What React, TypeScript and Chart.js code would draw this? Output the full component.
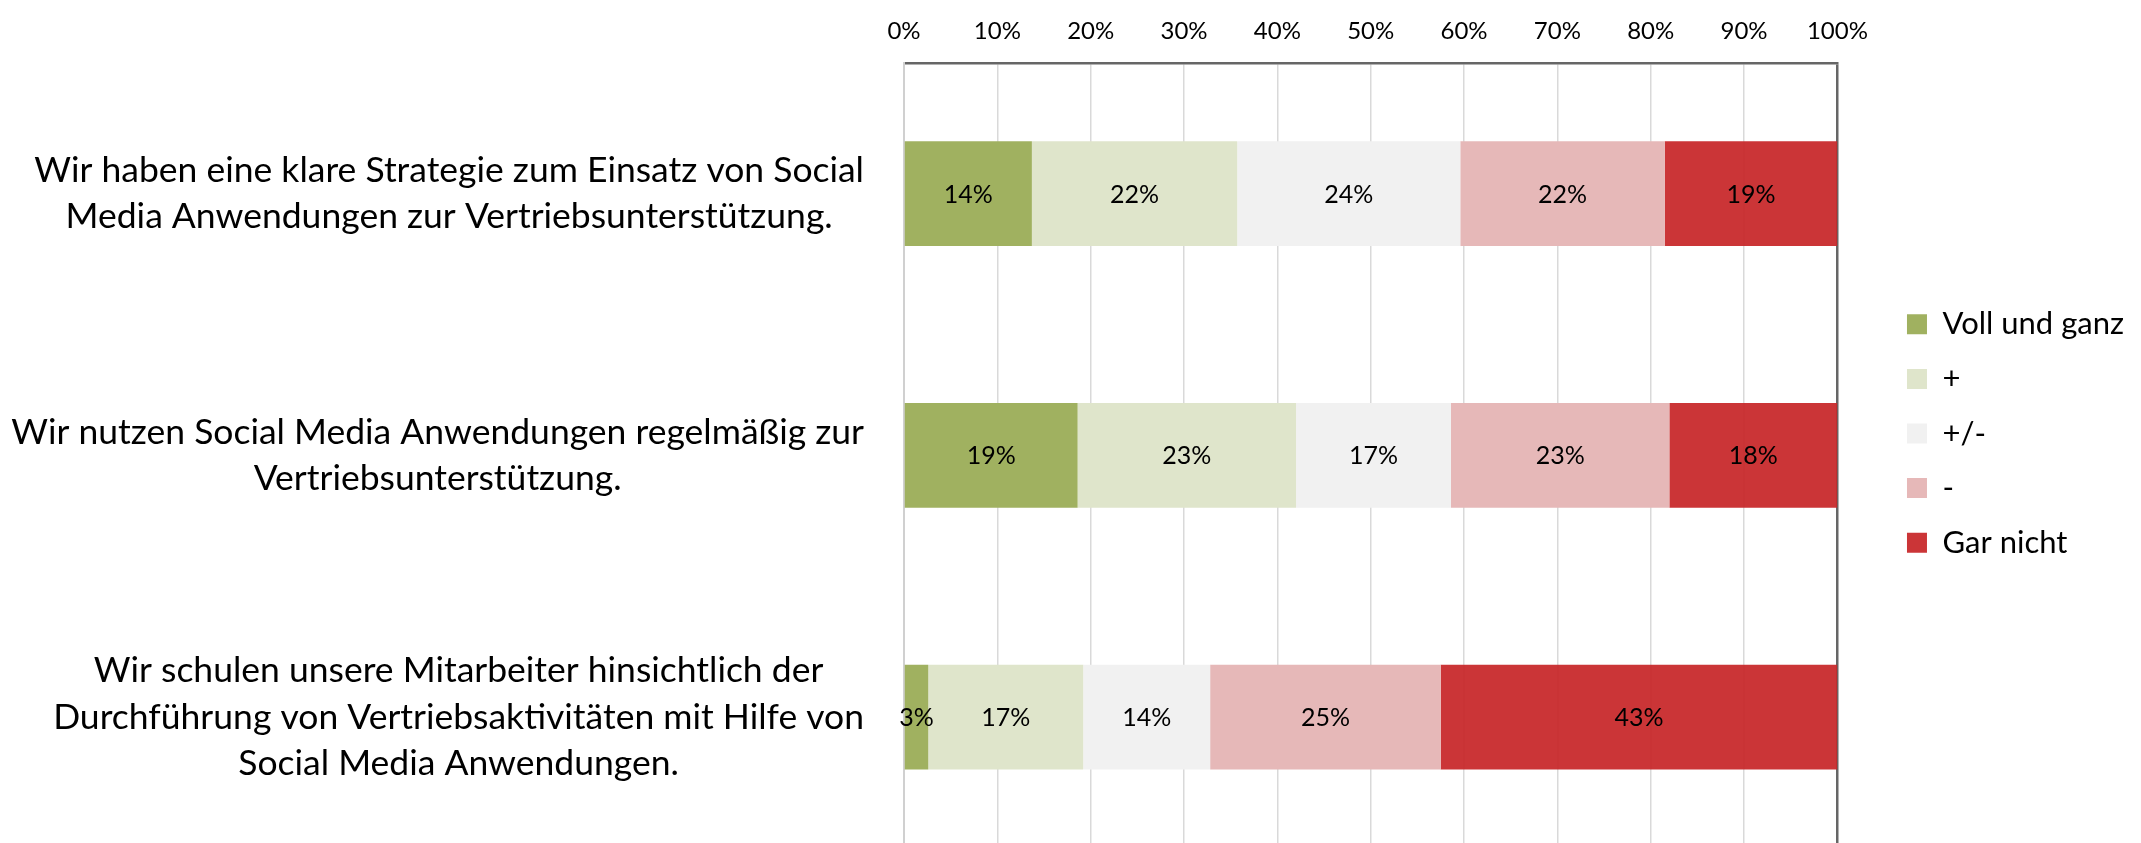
import React, { useEffect, useRef } from "react";
import { Chart, registerables } from "chart.js";

Chart.register(...registerables);

const FONT = "Lato, 'Noto Sans', sans-serif";

const categories: string[][] = [
  ["Wir haben eine klare Strategie zum Einsatz von Social", "Media Anwendungen zur Vertriebsunterstützung."],
  ["Wir nutzen Social Media Anwendungen regelmäßig zur", "Vertriebsunterstützung."],
  ["Wir schulen unsere Mitarbeiter hinsichtlich der", "Durchführung von Vertriebsaktivitäten mit Hilfe von", "Social Media Anwendungen."],
];

const seriesNames = ["Voll und ganz", "+", "+/-", "-", "Gar nicht"];

const vollUndGanz = [13.7, 18.6, 2.6];
const plus = [22.0, 23.4, 16.6];
const neutral = [23.9, 16.6, 13.6];
const minus = [21.9, 23.4, 24.7];
const garNicht = [18.5, 18.0, 42.5];

const seriesColors = ["#A0B160", "#DFE5CB", "#F1F1F1", "#E6B8B8", "rgba(200,40,42,0.94)"];

const xTickValues = [0, 10, 20, 30, 40, 50, 60, 70, 80, 90, 100];

const Y_LABEL_GAP = 40;

// Centre each category label's lines on its own block, the block ending at the axis gap.
const categoryLabelAlign = {
  id: "categoryLabelAlign",
  beforeDraw(chart: any) {
    const s = chart.scales.y;
    if (!s || !s.getLabelItems) return;
    const items = s.getLabelItems();
    const ctx = chart.ctx;
    items.forEach((it: any) => {
      ctx.save();
      ctx.font = it.font.string;
      const lines = Array.isArray(it.label) ? it.label : [it.label];
      const w = Math.max(...lines.map((l: string) => ctx.measureText(l).width));
      ctx.restore();
      it.options.translation[0] = s.right - Y_LABEL_GAP - w / 2;
      it.options.textAlign = "center";
    });
  },
};

const segmentLabels = {
  id: "segmentLabels",
  afterDatasetsDraw(chart: any) {
    const ctx = chart.ctx;
    ctx.save();
    ctx.font = `25px ${FONT}`;
    ctx.fillStyle = "#000";
    ctx.textAlign = "center";
    ctx.textBaseline = "middle";
    chart.data.datasets.forEach((ds: any, i: number) => {
      const meta = chart.getDatasetMeta(i);
      meta.data.forEach((el: any, j: number) => {
        const v = ds.data[j];
        const p = el.getProps(["x", "y", "base"], true);
        ctx.fillText(Math.round(v) + "%", (p.x + p.base) / 2, p.y + 1);
      });
    });
    ctx.restore();
  },
};

export default function App() {
  const ref = useRef<HTMLCanvasElement | null>(null);

  useEffect(() => {
    if (!ref.current) return;
    const series = [vollUndGanz, plus, neutral, minus, garNicht];
    const chart = new Chart(ref.current, {
      type: "bar",
      data: {
        labels: categories,
        datasets: series.map((d, i) => ({
          label: seriesNames[i],
          data: d,
          backgroundColor: seriesColors[i],
          borderWidth: 0,
          barPercentage: 0.4,
          categoryPercentage: 1,
        })),
      },
      options: {
        indexAxis: "y",
        animation: false,
        responsive: false,
        events: [],
        layout: { padding: { top: 0, right: 7, bottom: 0, left: 0 } },
        scales: {
          x: {
            type: "linear",
            position: "top",
            stacked: true,
            min: 0,
            max: 100,
            afterBuildTicks: (s: any) => {
              s.ticks = xTickValues.map((v) => ({ value: v }));
            },
            ticks: {
              callback: (v: any) => v + "%",
              color: "#000",
              font: { family: FONT, size: 24 },
              padding: 17,
              maxRotation: 0,
            },
            grid: {
              color: (c: any) => (c.index === 10 ? "#666666" : "#D9D9D9"),
              lineWidth: (c: any) => (c.index === 10 ? 2.5 : 1.5),
              drawTicks: false,
            },
            border: { color: "#666666", width: 2.5 },
          },
          y: {
            type: "category",
            position: "left",
            stacked: true,
            grid: { display: false },
            border: { display: true, color: "#D0D0D0", width: 2 },
            ticks: {
              color: "#000",
              font: { family: FONT, size: 35.5, lineHeight: 1.3 },
              crossAlign: "center",
              padding: 30,
              autoSkip: false,
            },
            afterFit: (s: any) => {
              s.width = 904;
              s.paddingTop = 0;
              s.paddingBottom = 0;
            },
          },
          y2: {
            type: "category",
            position: "right",
            display: true,
            grid: { display: false },
            border: { display: false },
            ticks: { display: false },
            afterFit: (s: any) => {
              s.width = 46;
              s.paddingTop = 0;
              s.paddingBottom = 0;
            },
          },
        },
        plugins: {
          tooltip: { enabled: false },
          legend: {
            position: "right",
            align: "center",
            title: {
              display: true,
              text: " ",
              font: { family: FONT, size: 10, lineHeight: 1.2 },
              padding: { top: 3, bottom: 4 },
            },
            labels: {
              boxWidth: 20,
              boxHeight: 20,
              padding: 23.6,
              color: "#000",
              font: { family: FONT, size: 31 },
            },
          },
        },
      } as any,
      plugins: [segmentLabels, categoryLabelAlign],
    });
    return () => chart.destroy();
  }, []);

  return (
    <div
      style={{
        position: "fixed",
        left: 0,
        top: 0,
        width: 2141,
        height: 843,
        overflow: "hidden",
        background: "#fff",
      }}
    >
      <canvas ref={ref} width={2141} height={848} style={{ display: "block" }} />
    </div>
  );
}
